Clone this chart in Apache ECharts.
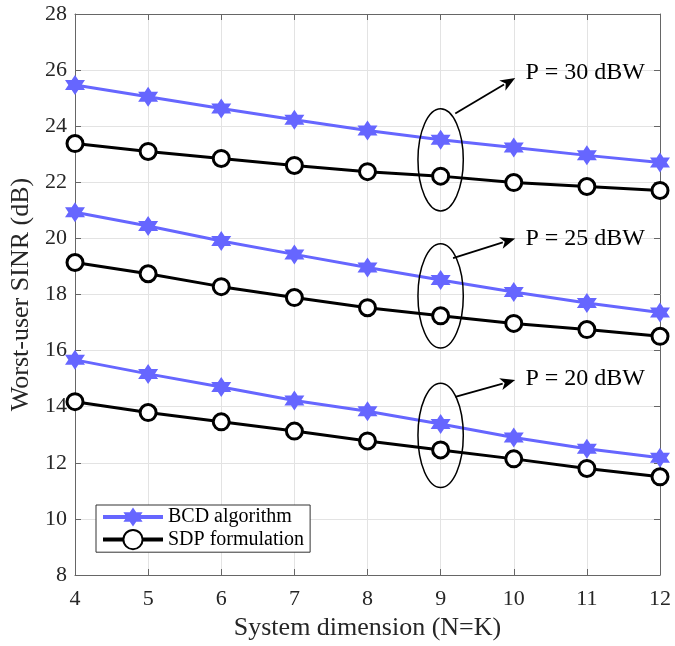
<!DOCTYPE html>
<html><head><meta charset="utf-8">
<script src="https://cdn.jsdelivr.net/npm/echarts@6/dist/echarts.min.js"></script>
<style>html,body{margin:0;padding:0;background:#fff}#c{width:675px;height:646px}</style>
</head><body><div id="c"></div>
<script>
const xValues = [4,5,6,7,8,9,10,11,12];
const bcd30 = [25.47,25.05,24.63,24.23,23.85,23.52,23.24,22.96,22.71];
const sdp30 = [23.38,23.10,22.85,22.60,22.38,22.22,21.99,21.85,21.71];
const bcd25 = [20.93,20.44,19.91,19.43,18.96,18.52,18.09,17.70,17.36];
const sdp25 = [19.14,18.74,18.28,17.89,17.53,17.24,16.97,16.75,16.51];
const bcd20 = [15.67,15.17,14.70,14.22,13.84,13.38,12.90,12.50,12.18];
const sdp20 = [14.18,13.79,13.46,13.13,12.78,12.46,12.14,11.80,11.50];
const yTicks = [8,10,12,14,16,18,20,22,24,26,28];
const groups = [
  {label:'P = 30 dBW', center:[9,22.8], rx:0.31, ry:1.82, from:[9.2,24.45], to:[10.02,25.72], text:[10.16,25.92]},
  {label:'P = 25 dBW', center:[9,17.95], rx:0.31, ry:1.86, from:[9.17,19.3], to:[10.02,20.0], text:[10.16,20.0]},
  {label:'P = 20 dBW', center:[9,12.98], rx:0.31, ry:1.86, from:[9.2,14.35], to:[10.02,14.95], text:[10.16,14.99]}
];
const BLUE = '#6666ff';
const star = 'path://M0,-100L28.87,-50L86.6,-50L57.7,0L86.6,50L28.87,50L0,100L-28.87,50L-86.6,50L-57.7,0L-86.6,-50L-28.87,-50Z';
const font = 'Liberation Serif';
function pairs(arr){return xValues.map((x,i)=>[x,arr[i]]);}
function bcdSeries(arr){return {name:'BCD algorithm',type:'line',data:pairs(arr),symbol:star,symbolSize:20,
  lineStyle:{color:BLUE,width:3},itemStyle:{color:BLUE},z:3};}
function sdpSeries(arr){return {name:'SDP formulation',type:'line',data:pairs(arr),symbol:'circle',symbolSize:16,
  lineStyle:{color:'#000',width:3},itemStyle:{color:'#fff',borderColor:'#000',borderWidth:3},z:4};}
const chart = echarts.init(document.getElementById('c'));
const axisCommon = {
  axisLine:{show:true,lineStyle:{color:'#666',width:1}},
  axisTick:{show:true,inside:true,length:6,lineStyle:{color:'#666'}},
};
chart.setOption({
  animation:false,
  grid:{left:75,right:15,top:14,bottom:68,containLabel:false},
  xAxis:[
    Object.assign({type:'value',min:4,max:12,interval:1,position:'bottom',
      name:'System dimension (N=K)',nameLocation:'middle',nameGap:40,
      nameTextStyle:{fontFamily:font,fontSize:26,color:'#262626'},
      axisLabel:{fontFamily:font,fontSize:22,color:'#262626',margin:13},
      splitLine:{show:true,lineStyle:{color:'#e3e3e3',width:1}}},axisCommon),
    Object.assign({type:'value',min:4,max:12,interval:1,position:'top',axisLabel:{show:false},splitLine:{show:false}},axisCommon)
  ],
  yAxis:[
    Object.assign({type:'value',min:8,max:28,interval:2,position:'left',
      name:'Worst-user SINR (dB)',nameLocation:'middle',nameGap:41,
      nameTextStyle:{fontFamily:font,fontSize:26,color:'#262626'},
      axisLabel:{fontFamily:font,fontSize:22,color:'#262626',margin:8,
        formatter:v=>yTicks.includes(v)?String(v):''},
      splitLine:{show:true,lineStyle:{color:'#e3e3e3',width:1}}},axisCommon),
    Object.assign({type:'value',min:8,max:28,interval:2,position:'right',axisLabel:{show:false},splitLine:{show:false}},axisCommon)
  ],
  legend:{data:['BCD algorithm','SDP formulation'],orient:'vertical',left:96,top:505,
    backgroundColor:'#fff',borderColor:'#333',borderWidth:1,padding:[2,6,2,5],itemGap:2,
    itemWidth:60,itemHeight:24,lineStyle:{width:4},textStyle:{fontFamily:font,fontSize:20,color:'#000'}},
  series:[bcdSeries(bcd30),sdpSeries(sdp30),bcdSeries(bcd25),sdpSeries(sdp25),bcdSeries(bcd20),sdpSeries(sdp20)]
});
const g = [];
groups.forEach(gr=>{
  const c = chart.convertToPixel({gridIndex:0},gr.center);
  const ex = chart.convertToPixel({gridIndex:0},[gr.center[0]+gr.rx,gr.center[1]+gr.ry]);
  g.push({type:'ellipse',shape:{cx:c[0],cy:c[1],rx:Math.abs(ex[0]-c[0]),ry:Math.abs(ex[1]-c[1])},
    style:{fill:'none',stroke:'#000',lineWidth:1.5},z:10});
  const a = chart.convertToPixel({gridIndex:0},gr.from);
  const b = chart.convertToPixel({gridIndex:0},gr.to);
  const ang = Math.atan2(b[1]-a[1],b[0]-a[0]);
  const L=15,W=6;
  const bx=b[0]-L*Math.cos(ang), by=b[1]-L*Math.sin(ang);
  g.push({type:'line',shape:{x1:a[0],y1:a[1],x2:bx+2*Math.cos(ang),y2:by+2*Math.sin(ang)},style:{stroke:'#000',lineWidth:1.8},z:10});
  g.push({type:'polygon',shape:{points:[[b[0],b[1]],[bx-W*Math.sin(ang),by+W*Math.cos(ang)],[bx+4*Math.cos(ang),by+4*Math.sin(ang)],[bx+W*Math.sin(ang),by-W*Math.cos(ang)]]},
    style:{fill:'#000'},z:10});
  const t = chart.convertToPixel({gridIndex:0},gr.text);
  g.push({type:'text',x:t[0],y:t[1],style:{text:gr.label,fontFamily:font,fontSize:24,fill:'#000',verticalAlign:'middle',align:'left'},z:10});
});
chart.setOption({graphic:g});
</script></body></html>
